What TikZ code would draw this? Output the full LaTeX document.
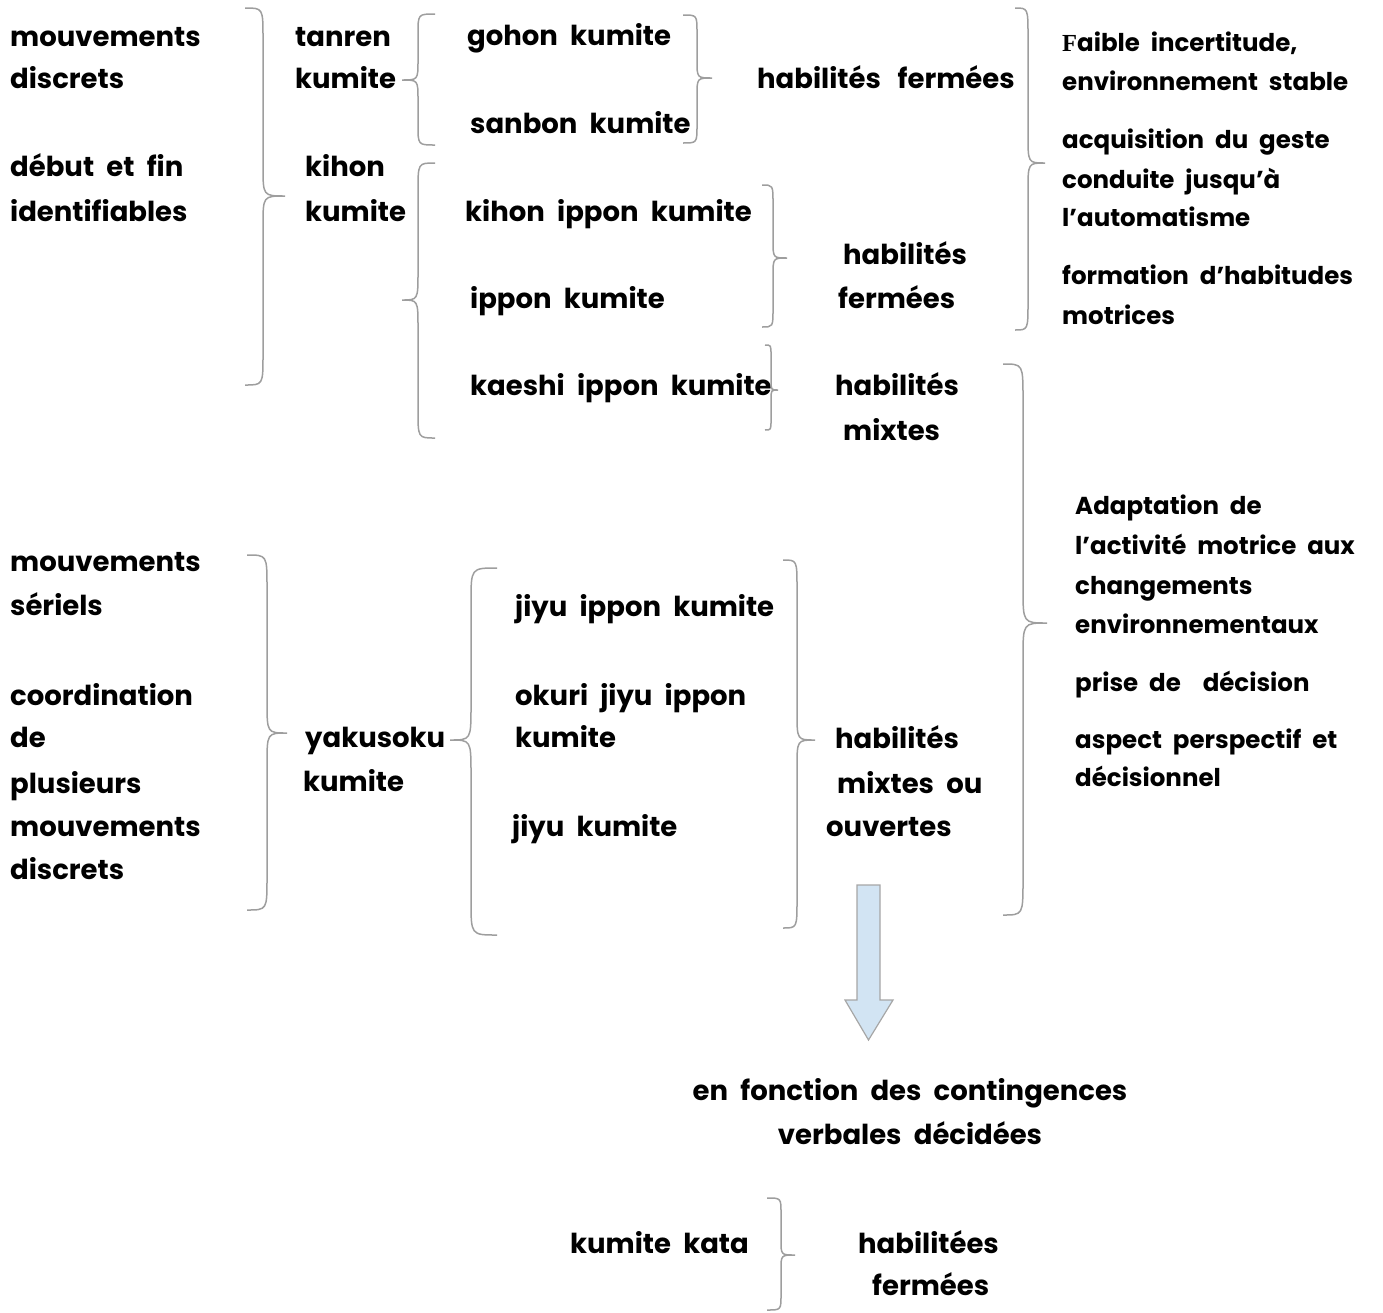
\documentclass[tikz,border=0pt]{standalone}
\usepackage{fontspec}
\setmainfont{Poppins}[WordSpace=2.1]
\newfontfamily\serifF{Liberation Serif}
\definecolor{arrowfill}{RGB}{210,228,243}
\newcommand\Brc[7]{\draw[brc] (#1,#4) .. controls (#2,#4) .. (#2,{#4+#7}) -- (#2,{#5-#7}) .. controls (#2,#5) .. (#3,#5) .. controls (#2,#5) .. (#2,{#5+#7}) -- (#2,{#6-#7}) .. controls (#2,#6) .. (#1,#6);}
\begin{document}
\begin{tikzpicture}[x=1pt,y=-1pt,
  txt/.style={anchor=base west,inner sep=0pt,font=\bfseries\fontsize{27.5}{30}\selectfont},
  rtxt/.style={anchor=base west,inner sep=0pt,font=\bfseries\fontsize{24.5}{27}\selectfont},
  ctxt/.style={anchor=base,inner sep=0pt,font=\bfseries\fontsize{27.5}{30}\selectfont},
  brc/.style={draw=black!38,line width=1.5pt},
  bigarrow/.style={fill=arrowfill,draw=black!35,line width=1.2pt}]
\useasboundingbox (0,0) rectangle (1383,1312);
% left top
\node[txt] (l1a) at (10,46) {mouvements};
\node[txt] (l1b) at (10,88) {discrets};
\node[txt] (l2a) at (10,176) {début et fin};
\node[txt] (l2b) at (10,221) {identifiables};
\node[txt] (t1a) at (295,46) {tanren};
\node[txt] (t1b) at (295,88) {kumite};
\node[txt] (t2a) at (305,176) {kihon};
\node[txt] (t2b) at (305,221) {kumite};
\node[txt] (go) at (467,45) {gohon kumite};
\node[txt] (sa) at (470,133) {sanbon kumite};
\node[txt] (hf1) at (757,88) {habilités \,fermées};
% right top
\node[rtxt] (r1a) at (1062,51) {{\serifF F}aible incertitude,};
\node[rtxt] (r1b) at (1062,90) {environnement stable};
\node[rtxt] (r1c) at (1062,148) {acquisition du geste};
\node[rtxt] (r1d) at (1062,188) {conduite jusqu'à};
\node[rtxt] (r1e) at (1062,226) {l'automatisme};
\node[rtxt] (r1f) at (1062,284) {formation d'habitudes};
\node[rtxt] (r1g) at (1062,324) {motrices};
% kihon group
\node[txt] (ki) at (465,221) {kihon ippon kumite};
\node[txt] (ik) at (470,308) {ippon kumite};
\node[txt] (hf2a) at (843,264) {habilités};
\node[txt] (hf2b) at (838,308) {fermées};
\node[txt] (ka) at (470,395) {kaeshi ippon kumite};
\node[txt] (hma) at (835,395) {habilités};
\node[txt] (hmb) at (843,440) {mixtes};
% right middle
\node[rtxt] (r2a) at (1075,514) {Adaptation de};
\node[rtxt] (r2b) at (1075,554) {l'activité motrice aux};
\node[rtxt] (r2c) at (1075,594) {changements};
\node[rtxt] (r2d) at (1075,633) {environnementaux};
\node[rtxt] (r2e) at (1075,691) {prise de \ décision};
\node[rtxt] (r2f) at (1075,748) {aspect perspectif et};
\node[rtxt] (r2g) at (1075,786) {décisionnel};
% lower left
\node[txt] (l3a) at (10,571) {mouvements};
\node[txt] (l3b) at (10,615) {sériels};
\node[txt] (l3c) at (10,705) {coordination};
\node[txt] (l3d) at (10,747) {de};
\node[txt] (l3e) at (10,793) {plusieurs};
\node[txt] (l3f) at (10,836) {mouvements};
\node[txt] (l3g) at (10,879) {discrets};
\node[txt] (ya) at (305,747) {yakusoku};
\node[txt] (yb) at (303,791) {kumite};
\node[txt] (j1) at (515,616) {jiyu ippon kumite};
\node[txt] (j2a) at (515,705) {okuri jiyu ippon};
\node[txt] (j2b) at (515,747) {kumite};
\node[txt] (j3) at (512,836) {jiyu kumite};
\node[txt] (hoa) at (835,748) {habilités};
\node[txt] (hob) at (837,793) {mixtes ou};
\node[txt] (hoc) at (826,836) {ouvertes};
% bottom
\node[ctxt] (efa) at (910,1100) {en fonction des contingences};
\node[ctxt] (efb) at (910,1144) {verbales décidées};
\node[txt] (kk) at (570,1253) {kumite kata};
\node[txt] (hea) at (858,1253) {habilitées};
\node[txt] (heb) at (872,1295) {fermées};
% braces
\Brc{245}{263}{285}{8}{196}{385}{30}
\Brc{435}{418}{402}{14}{80}{145}{20}
\Brc{435}{418}{402}{163}{300}{438}{28}
\Brc{683}{697}{712}{15}{78}{143}{18}
\Brc{1015}{1028}{1045}{8}{163}{330}{28}
\Brc{762}{773}{787}{185}{258}{327}{18}
\Brc{765}{771}{778}{345}{390}{430}{10}
\Brc{1003}{1023}{1047}{364}{623}{915}{35}
\Brc{247}{267}{287}{555}{733}{910}{32}
\Brc{497}{471}{450}{568}{740}{935}{34}
\Brc{783}{797}{815}{560}{740}{928}{28}
\Brc{767}{781}{795}{1198}{1255}{1310}{15}
% arrow
\draw[bigarrow] (857,885) -- (880,885) -- (880,1000) -- (893,1000) -- (868.5,1040) -- (845,1000) -- (857,1000) -- cycle;
\end{tikzpicture}
\end{document}
